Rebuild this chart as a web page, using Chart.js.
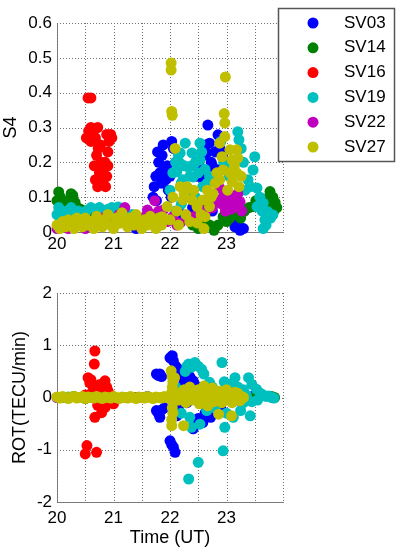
<!DOCTYPE html>
<html>
<head>
<meta charset="utf-8">
<script src="https://cdn.jsdelivr.net/npm/chart.js@4.4.1/dist/chart.umd.min.js"></script>
<style>
  html, body { margin: 0; padding: 0; background: #fff; }
  #wrap { position: relative; width: 399px; height: 551px; }
  #topBox { position: absolute; left: 0; top: 0; width: 399px; height: 260px; }
  #botBox { position: absolute; left: 0; top: 260px; width: 399px; height: 291px; }
</style>
</head>
<body>
<div id="wrap">
  <div id="topBox"><canvas id="s4Chart" width="399" height="260"></canvas></div>
  <div id="botBox"><canvas id="rotChart" width="399" height="291"></canvas></div>
</div>
<script>
const satNames = ["SV03", "SV14", "SV16", "SV19", "SV22", "SV27"];
const satColors = ["#0000ff", "#008000", "#ff0000", "#00bfbf", "#bf00bf", "#bfbf00"];
const timeLabels = [20, 21, 22, 23];

// S4 values, [time UT, S4]
const s4Sv03 = [[20.02,0.05],[20.3,0.03],[21.4,0.01],[21.5,0.02],[21.7,0.1],[21.72,0.13],[21.75,0.16],[21.76,0.09],[21.78,0.23],[21.8,0.2],
  [21.82,0.17],[21.85,0.14],[21.86,0.22],[21.88,0.25],[21.9,0.18],[21.92,0.15],[21.95,0.19],[21.97,0.12],[22.0,0.16],[22.02,0.1],
  [22.03,0.26],[22.06,0.24],[22.1,0.2],[22.15,0.06],[22.2,0.04],[22.32,0.11],[22.4,0.07],[22.48,0.16],[22.52,0.19],[22.58,0.155],
  [22.6,0.22],[22.6,0.09],[22.63,0.25],[22.65,0.227],[22.67,0.307],[22.7,0.255],[22.73,0.2],[22.75,0.06],[22.76,0.187],[22.8,0.23],
  [22.83,0.144],[22.85,0.279],[22.88,0.24],[22.9,0.18],[22.93,0.22],[23.15,0.015],[23.2,0.025],[23.24,0.005],[23.3,0.01]];
const s4Sv14 = [[20.0,0.09],[20.03,0.115],[20.06,0.1],[20.1,0.08],[20.14,0.07],[20.2,0.09],[20.25,0.11],[20.28,0.105],[20.32,0.085],[20.36,0.07],
  [20.42,0.065],[20.5,0.06],[20.58,0.06],[20.65,0.055],[20.72,0.05],[20.8,0.04],[20.9,0.03],[21.0,0.02],[22.4,0.02],[22.5,0.01],
  [22.6,0.03],[22.7,0.02],[22.78,0.005],[22.85,0.02],[22.94,0.044],[23.0,0.03],[23.06,0.04],[23.12,0.05],[23.18,0.054],[23.25,0.04],
  [23.32,0.06],[23.4,0.07],[23.47,0.073],[23.52,0.09],[23.59,0.092],[23.65,0.085],[23.7,0.08],[23.75,0.1],[23.77,0.116],[23.82,0.1],
  [23.84,0.06],[23.86,0.085],[23.89,0.07]];
const s4Sv16 = [[20.55,0.385],[20.6,0.385],[20.52,0.27],[20.56,0.29],[20.6,0.3],[20.6,0.26],[20.62,0.28],[20.65,0.29],[20.66,0.19],[20.68,0.27],
  [20.68,0.15],[20.7,0.22],[20.72,0.3],[20.72,0.13],[20.73,0.24],[20.75,0.17],[20.77,0.25],[20.78,0.2],[20.8,0.18],[20.82,0.15],
  [20.84,0.19],[20.85,0.2],[20.86,0.13],[20.88,0.16],[20.88,0.28],[20.9,0.23],[20.9,0.19],[20.92,0.26],[20.95,0.28],[20.97,0.27]];
const s4Sv19 = [[20.0,0.05],[20.03,0.07],[20.07,0.06],[20.12,0.05],[20.18,0.06],[20.25,0.07],[20.3,0.055],[20.38,0.06],[20.45,0.05],[20.52,0.06],
  [20.6,0.07],[20.68,0.065],[20.75,0.07],[20.82,0.06],[20.9,0.065],[20.97,0.07],[21.03,0.065],[21.08,0.072],[21.15,0.06],[21.22,0.05],
  [21.28,0.045],[21.33,0.05],[21.4,0.03],[22.0,0.12],[22.05,0.17],[22.1,0.2],[22.1,0.06],[22.12,0.173],[22.15,0.22],[22.18,0.227],
  [22.18,0.197],[22.2,0.14],[22.2,0.08],[22.23,0.15],[22.25,0.19],[22.27,0.255],[22.3,0.115],[22.32,0.187],[22.35,0.16],[22.39,0.227],
  [22.39,0.19],[22.41,0.158],[22.45,0.2],[22.45,0.1],[22.5,0.17],[22.53,0.255],[22.53,0.207],[22.56,0.23],[22.58,0.13],[22.62,0.18],
  [22.66,0.14],[22.7,0.16],[22.9,0.26],[22.95,0.2],[23.05,0.16],[23.1,0.19],[23.2,0.288],[23.22,0.265],[23.26,0.24],[23.3,0.2],
  [23.33,0.12],[23.38,0.15],[23.42,0.13],[23.47,0.178],[23.5,0.216],[23.54,0.126],[23.54,0.073],[23.59,0.1],[23.63,0.06],[23.65,0.083],
  [23.65,0.01],[23.68,0.035],[23.7,0.02],[23.73,0.058],[23.78,0.04],[23.82,0.049]];
const s4Sv22 = [[20.0,0.01],[20.1,0.02],[20.2,0.01],[20.3,0.03],[20.4,0.02],[20.5,0.01],[20.6,0.03],[20.7,0.02],[20.8,0.04],[20.9,0.03],
  [21.0,0.02],[21.1,0.05],[21.2,0.07],[21.3,0.03],[21.4,0.02],[21.5,0.04],[21.6,0.063],[21.68,0.05],[21.73,0.09],[21.8,0.06],
  [21.88,0.063],[21.95,0.03],[22.05,0.044],[22.12,0.02],[22.18,0.026],[22.3,0.04],[22.41,0.044],[22.5,0.05],[22.58,0.06],[22.65,0.063],
  [22.7,0.092],[22.75,0.07],[22.83,0.092],[22.88,0.126],[22.92,0.08],[22.94,0.1],[22.98,0.06],[23.0,0.083],[23.04,0.11],[23.07,0.065],
  [23.1,0.1],[23.12,0.08],[23.15,0.072],[23.18,0.095],[23.2,0.11],[23.24,0.086],[23.27,0.06]];
const s4Sv27 = [[20.0,0.02],[20.05,0.01],[20.1,0.03],[20.15,0.015],[20.2,0.035],[20.25,0.02],[20.3,0.01],[20.35,0.04],[20.4,0.025],[20.45,0.015],
  [20.5,0.04],[20.55,0.02],[20.6,0.03],[20.65,0.01],[20.7,0.045],[20.75,0.025],[20.8,0.015],[20.85,0.035],[20.9,0.05],[20.95,0.02],
  [21.0,0.01],[21.05,0.04],[21.1,0.025],[21.15,0.055],[21.2,0.03],[21.25,0.015],[21.3,0.04],[21.35,0.02],[21.4,0.05],[21.45,0.03],
  [21.5,0.01],[21.55,0.035],[21.6,0.02],[21.65,0.045],[21.7,0.03],[21.75,0.01],[21.8,0.04],[21.85,0.02],[21.86,0.044],[21.95,0.073],
  [22.0,0.035],[22.02,0.485],[22.02,0.465],[22.03,0.346],[22.04,0.335],[22.05,0.1],[22.09,0.24],[22.12,0.06],[22.15,0.02],[22.18,0.13],
  [22.23,0.092],[22.25,0.11],[22.28,0.05],[22.3,0.13],[22.35,0.03],[22.39,0.092],[22.42,0.12],[22.48,0.073],[22.48,0.026],[22.55,0.05],
  [22.58,0.092],[22.6,0.01],[22.62,0.044],[22.66,0.12],[22.7,0.073],[22.73,0.1],[22.76,0.11],[22.8,0.14],[22.83,0.17],[22.88,0.15],
  [22.88,0.255],[22.92,0.216],[22.94,0.178],[22.96,0.34],[22.97,0.313],[22.97,0.274],[22.98,0.445],[23.02,0.12],[23.06,0.236],[23.06,0.17],
  [23.1,0.207],[23.1,0.144],[23.14,0.19],[23.18,0.236],[23.18,0.17],[23.2,0.212],[23.22,0.13],[23.26,0.16]];

// ROT values, [time UT, ROT]
const rotSv03 = [[20.2,0],[20.8,0],[21.4,0],[21.6,0.02],[21.76,0.45],[21.76,-0.25],[21.79,-0.3],[21.8,0.42],[21.82,0.45],[21.82,-0.38],
  [21.85,0.4],[21.85,-0.24],[21.87,0.0],[21.9,-0.2],[22.0,0.76],[22.0,-0.83],[22.03,-0.9],[22.04,0.8],[22.06,0.7],[22.06,-0.95],
  [22.09,-1.05],[22.1,0.6],[22.12,-0.35],[22.14,0.55],[22.15,-0.2],[22.18,0.45],[22.2,0.2],[22.25,0.3],[22.3,-0.1],[22.35,0.4],
  [22.41,0.32],[22.41,-0.6],[22.45,0.23],[22.45,-0.5],[22.48,0.19],[22.5,-0.4],[22.58,-0.48],[22.62,-0.3],[22.7,0.1],[22.72,-0.38],
  [22.8,-0.1],[22.9,-0.2],[23.0,0.05],[23.2,-0.05],[23.3,0.1],[23.38,-0.03],[23.45,0.02]];
const rotSv14 = [[20.1,0],[20.3,0.02],[20.5,-0.02],[20.7,0],[21.0,0.01],[22.5,0],[23.0,0],[23.5,0.01],[23.8,0.02],[23.85,0.0]];
const rotSv16 = [[20.5,0.05],[20.5,-1.08],[20.53,-0.92],[20.55,0.38],[20.58,0.28],[20.6,0.34],[20.62,0.1],[20.64,0.13],[20.66,0.64],[20.67,0.89],
  [20.67,-0.38],[20.7,-1.05],[20.7,0.2],[20.72,-0.15],[20.73,0.19],[20.75,-0.1],[20.76,0.25],[20.79,0.22],[20.79,-0.29],[20.82,0.1],
  [20.85,0.32],[20.85,-0.19],[20.88,0.2],[20.9,0.13],[20.92,-0.1],[20.95,0.05],[20.97,-0.06],[21.0,-0.12]];
const rotSv19 = [[20.2,0.01],[20.6,0],[21.2,0],[22.1,0.2],[22.2,-0.3],[22.27,0.5],[22.3,0.6],[22.33,0.64],[22.33,-1.56],[22.35,-0.38],
  [22.38,0.58],[22.38,-0.57],[22.44,0.67],[22.5,0.6],[22.5,-1.24],[22.53,-0.51],[22.56,0.54],[22.6,0.45],[22.65,-0.25],[22.7,0.29],
  [22.75,0.2],[22.8,-0.2],[22.92,0.67],[22.94,-1.02],[22.96,0.3],[22.97,-0.57],[23.0,-0.3],[23.05,0.25],[23.12,-0.38],[23.15,0.38],
  [23.2,0.2],[23.25,-0.25],[23.3,0.15],[23.3,-0.1],[23.35,0.05],[23.39,0.38],[23.42,-0.35],[23.45,0.25],[23.45,-0.08],[23.53,0.16],
  [23.55,-0.05],[23.6,0.08],[23.65,0.05],[23.7,0.02],[23.75,0.03],[23.8,0.0],[23.84,-0.01]];
const rotSv22 = [[20.0,0],[20.5,0],[21.0,0],[21.5,0],[22.06,0.05],[22.1,-0.05],[22.5,0.02],[23.0,0],[23.2,0.01]];
const rotSv27 = [[20.0,0.01],[20.05,-0.01],[20.1,0.02],[20.15,0],[20.2,-0.02],[20.25,0.01],[20.3,0.02],[20.35,-0.01],[20.4,0],[20.45,0.02],
  [20.5,-0.02],[20.55,0.01],[20.6,0],[20.65,-0.01],[20.7,0.02],[20.75,0],[20.8,-0.02],[20.85,0.01],[20.9,0],[20.95,-0.01],
  [21.0,0.02],[21.05,0],[21.1,-0.02],[21.15,0.01],[21.2,0],[21.25,-0.01],[21.3,0.02],[21.35,0],[21.4,-0.02],[21.45,0.01],
  [21.5,0],[21.55,-0.01],[21.6,0.02],[21.65,0],[21.7,-0.02],[21.75,0.01],[21.8,0],[21.85,-0.01],[21.9,0.02],[21.95,0],
  [22.02,0.51],[22.04,0.4],[22.05,0.3],[22.04,0.2],[22.03,0.1],[22.05,-0.1],[22.04,-0.2],[22.05,-0.3],[22.03,-0.42],[22.03,-0.54],
  [22.08,0.38],[22.1,0.05],[22.15,-0.05],[22.2,0.1],[22.22,0.02],[22.24,-0.54],[22.25,0.15],[22.28,-0.1],[22.3,0.05],[22.32,-0.02],
  [22.35,0.2],[22.38,-0.05],[22.4,0.12],[22.42,0.06],[22.45,0.0],[22.48,-0.03],[22.5,0.15],[22.52,-0.12],[22.55,0.05],[22.58,0.03],
  [22.6,0.22],[22.62,-0.05],[22.65,0.1],[22.67,-0.16],[22.68,0.02],[22.7,0.05],[22.72,-0.04],[22.75,0.18],[22.78,-0.08],[22.8,0.08],
  [22.82,0.03],[22.85,-0.02],[22.86,-0.32],[22.88,0.12],[22.9,0.0],[22.92,-0.1],[22.95,0.05],[22.98,-0.03],[23.0,0.15],[23.03,-0.05],
  [23.06,0.08],[23.08,0.03],[23.09,-0.35],[23.1,-0.1],[23.13,0.05],[23.15,0.1],[23.17,-0.02],[23.2,0.08],[23.22,0.02],[23.24,-0.06],
  [23.27,0.02],[23.3,0.0]];

const fontFamily = '"Liberation Sans", Arial, sans-serif';
Chart.defaults.font.family = fontFamily;
Chart.defaults.color = "#000";

function makeSets(lists) {
  return lists.map((pts, i) => ({
    label: satNames[i],
    data: pts.map(p => ({ x: p[0], y: p[1] })),
    backgroundColor: satColors[i],
    borderWidth: 0,
    pointRadius: 5.5,
    pointHoverRadius: 5.5,
    order: satNames.length - 1 - i, // later satellites drawn on top, like the original
    clip: false
  }));
}

// dotted matlab-style grid, drawn from the scales' own ticks
const dottedGrid = {
  id: "dottedGrid",
  beforeDatasetsDraw(chart) {
    const { ctx, chartArea: a, scales: { x, y } } = chart;
    ctx.save();
    ctx.strokeStyle = "#707070";
    ctx.lineWidth = 1;
    ctx.setLineDash([1, 2]);
    ctx.beginPath();
    x.ticks.forEach(t => {
      const px = Math.round(x.getPixelForValue(t.value)) + 0.5;
      ctx.moveTo(px, a.top);
      ctx.lineTo(px, a.bottom);
    });
    y.ticks.forEach(t => {
      const py = Math.round(y.getPixelForValue(t.value)) + 0.5;
      ctx.moveTo(a.left, py);
      ctx.lineTo(a.right, py);
    });
    ctx.stroke();
    ctx.restore();
  }
};

function makeScales(yMin, yMax, yStep, yFmt, yTitle, yTitlePad, xHeight, xPad, xTitle) {
  const axisLine = { display: true, color: "#808080", width: 1 };
  return {
    x: {
      type: "linear", min: 20, max: 24,
      grid: { display: false, drawTicks: false },
      border: axisLine,
      ticks: {
        stepSize: 0.5, autoSkip: false, maxRotation: 0, padding: xPad,
        font: { size: 17 },
        callback: v => (timeLabels.includes(v) ? String(v) : " ")
      },
      title: { display: !!xTitle, text: xTitle || "", font: { size: 18 }, padding: { top: 0, bottom: 2 } },
      afterFit: s => { s.height = xHeight; }
    },
    y: {
      min: yMin, max: yMax,
      grid: { display: false, drawTicks: false },
      border: axisLine,
      ticks: { stepSize: yStep, padding: 5, font: { size: 17 }, callback: yFmt },
      title: { display: true, text: yTitle, font: { size: 18 }, padding: { top: yTitlePad, bottom: 0 } },
      afterFit: s => { s.width = 57; }
    }
  };
}

const legendBox = {
  id: "legendBox",
  afterDraw(chart) {
    const ctx = chart.ctx;
    ctx.save();
    ctx.fillStyle = "#fff";
    ctx.fillRect(278, 8, 117, 154);
    ctx.strokeStyle = "#555";
    ctx.lineWidth = 1.5;
    ctx.strokeRect(278.5, 8.5, 116, 153);
    ctx.font = "17px " + fontFamily;
    ctx.textBaseline = "middle";
    satNames.forEach((name, i) => {
      const y = 23 + i * 24.8;
      ctx.fillStyle = satColors[i];
      ctx.beginPath();
      ctx.arc(313, y, 5.5, 0, Math.PI * 2);
      ctx.fill();
      ctx.fillStyle = "#000";
      ctx.fillText(name, 344, y);
    });
    ctx.restore();
  }
};

const common = {
  responsive: false,
  animation: false,
  plugins: { legend: { display: false }, tooltip: { enabled: false } }
};

new Chart(document.getElementById("s4Chart"), {
  type: "scatter",
  data: { datasets: makeSets([s4Sv03, s4Sv14, s4Sv16, s4Sv19, s4Sv22, s4Sv27]) },
  options: {
    ...common,
    layout: { padding: { top: 23, right: 116, left: 0, bottom: 0 } },
    scales: makeScales(0, 0.6, 0.1, v => (v === 0 ? "0" : v.toFixed(1)), "S4", 0, 28, 2, null)
  },
  plugins: [dottedGrid, legendBox]
});

new Chart(document.getElementById("rotChart"), {
  type: "scatter",
  data: { datasets: makeSets([rotSv03, rotSv14, rotSv16, rotSv19, rotSv22, rotSv27]) },
  options: {
    ...common,
    layout: { padding: { top: 33, right: 116, left: 0, bottom: 0 } },
    scales: makeScales(-2, 2, 1, v => String(v), "ROT(TECU/min)", 9, 49, 6, "Time (UT)")
  },
  plugins: [dottedGrid]
});
</script>
</body>
</html>
